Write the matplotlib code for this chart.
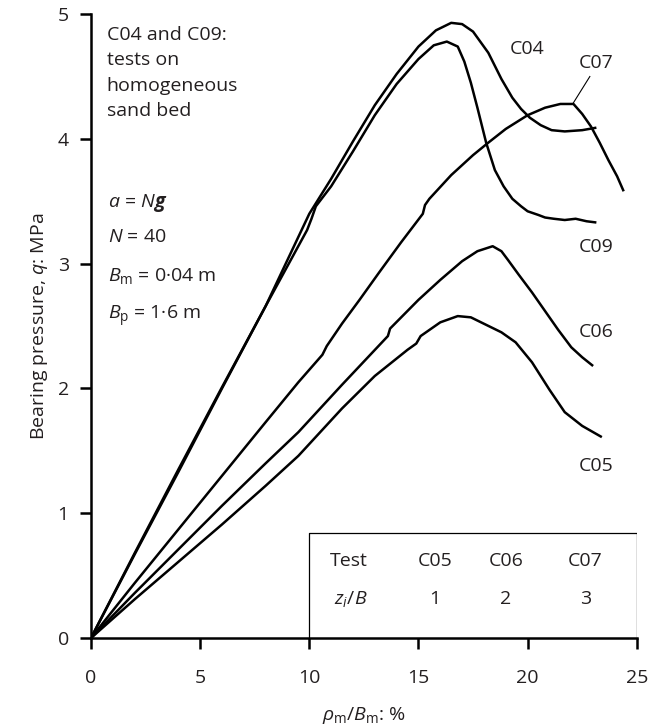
import matplotlib
matplotlib.use('Agg')
import matplotlib.pyplot as plt

plt.rcParams['font.family'] = ['Open Sans', 'DejaVu Sans']
plt.rcParams['mathtext.fontset'] = 'custom'
plt.rcParams['mathtext.rm'] = 'Open Sans'
plt.rcParams['mathtext.it'] = 'Open Sans:italic'
plt.rcParams['mathtext.bf'] = 'Open Sans:italic:bold'
plt.rcParams['font.size'] = 14

txt_color = '#231f20'

# test curves (settlement ratio %, bearing pressure MPa)
c04_x = [0, 2, 4, 6, 8, 10, 11, 12, 13, 14, 15, 15.8, 16.5, 17.0, 17.5, 18.2, 18.8, 19.3, 19.7, 20.1, 20.6, 21.1, 21.7, 22.5, 23.15]
c04_y = [0, 0.67, 1.33, 2.0, 2.66, 3.40, 3.68, 3.98, 4.27, 4.52, 4.74, 4.87, 4.93, 4.92, 4.86, 4.69, 4.48, 4.33, 4.24, 4.17, 4.11, 4.07, 4.06, 4.07, 4.09]

c09_x = [0, 2, 4, 6, 8, 9.9, 10.1, 10.3, 11, 12, 13, 14, 15, 15.7, 16.3, 16.8, 17.1, 17.4, 17.7, 18.1, 18.5, 18.9, 19.3, 19.7, 20.0, 20.5, 20.8, 21.2, 21.7, 22.2, 22.7, 23.15]
c09_y = [0, 0.68, 1.35, 2.01, 2.66, 3.27, 3.36, 3.46, 3.62, 3.90, 4.19, 4.44, 4.64, 4.75, 4.78, 4.74, 4.62, 4.45, 4.25, 3.97, 3.75, 3.62, 3.52, 3.46, 3.42, 3.39, 3.37, 3.36, 3.35, 3.36, 3.34, 3.33]

c07_x = [0, 2, 4, 6, 8, 9.5, 10.6, 10.8, 11.5, 12.3, 13.2, 14.2, 15.2, 15.3, 15.5, 16.5, 17.5, 18.2, 19.0, 20.0, 20.8, 21.5, 22.1, 22.5, 22.9, 23.3, 23.7, 24.1, 24.4]
c07_y = [0, 0.44, 0.87, 1.3, 1.73, 2.05, 2.27, 2.34, 2.52, 2.71, 2.93, 3.17, 3.40, 3.47, 3.52, 3.71, 3.87, 3.97, 4.08, 4.19, 4.25, 4.28, 4.28, 4.20, 4.10, 3.97, 3.83, 3.70, 3.58]

c06_x = [0, 2, 4, 6, 8, 9.5, 11.5, 13.6, 13.7, 15.0, 16.0, 17.0, 17.7, 18.4, 18.8, 19.1, 19.6, 20.2, 20.8, 21.4, 22.0, 22.5, 23.0]
c06_y = [0, 0.36, 0.71, 1.06, 1.40, 1.65, 2.03, 2.42, 2.48, 2.71, 2.87, 3.02, 3.10, 3.14, 3.10, 3.03, 2.91, 2.77, 2.62, 2.47, 2.33, 2.25, 2.18]

c05_x = [0, 2, 4, 6, 8, 9.5, 11.5, 13.0, 14.5, 14.9, 15.1, 16.0, 16.8, 17.4, 18.1, 18.8, 19.45, 20.2, 21.0, 21.7, 22.5, 23.4]
c05_y = [0, 0.31, 0.61, 0.91, 1.22, 1.46, 1.84, 2.10, 2.31, 2.36, 2.42, 2.53, 2.58, 2.57, 2.51, 2.45, 2.37, 2.21, 1.99, 1.81, 1.70, 1.61]

curve_labels = ['C04', 'C07', 'C09', 'C06', 'C05']
label_x = [20.0, 23.15, 23.15, 23.15, 23.15]
label_y = [4.72, 4.61, 3.13, 2.45, 1.38]

table_tests = ['C05', 'C06', 'C07']
table_zb = ['1', '2', '3']

fig = plt.figure(figsize=(6.56, 7.28), dpi=100)
ax = fig.add_axes([0.1387, 0.1236, 0.832, 0.857])

for xs, ys in [(c04_x, c04_y), (c09_x, c09_y), (c07_x, c07_y), (c06_x, c06_y), (c05_x, c05_y)]:
    ax.plot(xs, ys, color='black', lw=1.8, solid_joinstyle='round', solid_capstyle='butt')

for lab, lx, ly in zip(curve_labels, label_x, label_y):
    ax.text(lx, ly, lab, ha='center', va='center', color=txt_color)

# leader line for C07
ax.plot([22.1, 22.85], [4.29, 4.50], color='black', lw=0.8)

# notes
ax.text(0.72, 4.83, 'C04 and C09:', va='center', color=txt_color)
ax.text(0.72, 4.63, 'tests on', va='center', color=txt_color)
ax.text(0.72, 4.42, 'homogeneous', va='center', color=txt_color)
ax.text(0.72, 4.22, 'sand bed', va='center', color=txt_color)
ax.text(0.8, 3.49, r'$a$ = $N\mathbf{g}$', va='center', color=txt_color)
ax.text(0.8, 3.21, r'$N$ = 40', va='center', color=txt_color)
ax.text(0.8, 2.90, r'$B_\mathrm{m}$ = 0·04 m', va='center', color=txt_color)
ax.text(0.8, 2.58, r'$B_\mathrm{p}$ = 1·6 m', va='center', color=txt_color)

# small table box
ax.plot([10, 10, 25, 25], [0, 0.84, 0.84, 0], color='black', lw=0.9)
ax.text(11.8, 0.62, 'Test', ha='center', va='center', color=txt_color)
ax.text(11.9, 0.31, r'$z_i/B$', ha='center', va='center', color=txt_color)
for tx, t, z in zip([15.75, 19.0, 22.65], table_tests, table_zb):
    ax.text(tx, 0.62, t, ha='center', va='center', color=txt_color)
    ax.text(tx, 0.31, z, ha='center', va='center', color=txt_color)

ax.set_xlim(0, 25)
ax.set_ylim(0, 5)
ax.set_xticks([0, 5, 10, 15, 20, 25])
ax.set_yticks([0, 1, 2, 3, 4, 5])
ax.spines['top'].set_visible(False)
ax.spines['right'].set_visible(False)
for s in ['left', 'bottom']:
    ax.spines[s].set_linewidth(1.8)
ax.tick_params(direction='out', length=8, width=1.8, colors='black', labelcolor=txt_color)
ax.tick_params(axis='x', pad=14)
ax.tick_params(axis='y', pad=8)

ax.set_xlabel(r'$\rho_\mathrm{m}/B_\mathrm{m}$: %', color=txt_color)
ax.set_ylabel(r'Bearing pressure, $q$: MPa', color=txt_color)
ax.xaxis.set_label_coords(0.5, -0.108)
ax.yaxis.set_label_coords(-0.075, 0.5)

fig.savefig('out.png', dpi=100)
